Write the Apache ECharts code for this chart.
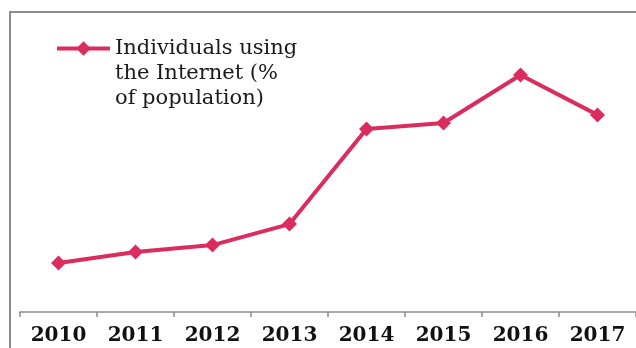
<!DOCTYPE html>
<html>
<head>
<meta charset="utf-8">
<script src="https://cdn.jsdelivr.net/npm/echarts@6/dist/echarts.min.js"></script>
<style>html,body{margin:0;padding:0;background:#fff;}#c{width:636px;height:348px;}</style>
</head>
<body>
<div id="c"></div>
<script>
var categories = ['2010', '2011', '2012', '2013', '2014', '2015', '2016', '2017'];
var internetUsers = [16.3, 20.0, 22.3, 29.3, 61.0, 63.0, 79.0, 65.7];
var seriesName = 'Individuals using\nthe Internet (%\nof population)';

var chart = echarts.init(document.getElementById('c'), null, {renderer: 'canvas'});
var color = '#DB2C5E';
var serif = "'DejaVu Serif', serif";
chart.setOption({
  animation: false,
  backgroundColor: '#ffffff',
  graphic: [{
    type: 'rect', position: [10, 12], silent: true, z: -1,
    shape: {x: 0, y: 0, width: 700, height: 400},
    style: {fill: 'none', stroke: '#8c8c8c', lineWidth: 2}
  }],
  grid: {left: 20, top: 12, width: 618, height: 300, containLabel: false},
  legend: {
    left: 55, top: -14, padding: 0,
    itemWidth: 53, itemHeight: 18, itemGap: 5,
    data: [seriesName],
    formatter: function (name) { return '\n\n' + name; },
    lineStyle: {width: 4},
    textStyle: {fontFamily: serif, fontSize: 21, color: '#1a1a1a', lineHeight: 25}
  },
  xAxis: {
    type: 'category', data: categories, boundaryGap: true,
    axisLine: {lineStyle: {color: '#8c8c8c', width: 1.5}},
    axisTick: {show: true, length: 5, lineStyle: {color: '#8c8c8c', width: 1.5}},
    axisLabel: {fontFamily: serif, fontWeight: 'bold', fontSize: 20, color: '#111', margin: 14}
  },
  yAxis: {
    type: 'value', min: 0, max: 100, show: false,
    splitLine: {show: false}
  },
  series: [{
    name: seriesName, type: 'line', data: internetUsers,
    symbol: 'diamond', symbolSize: 15,
    lineStyle: {color: color, width: 4},
    itemStyle: {color: color}
  }]
});
</script>
</body>
</html>
